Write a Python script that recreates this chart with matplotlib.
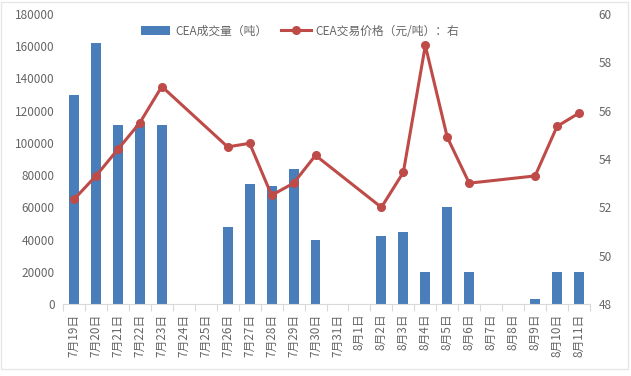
import numpy as np
import matplotlib
matplotlib.use("Agg")
import matplotlib.pyplot as plt
from matplotlib.patches import Rectangle

plt.rcParams['font.family'] = ['Noto Sans CJK SC', 'DejaVu Sans']

dates = ["7月19日", "7月20日", "7月21日", "7月22日", "7月23日", "7月24日", "7月25日",
         "7月26日", "7月27日", "7月28日", "7月29日", "7月30日", "7月31日", "8月1日",
         "8月2日", "8月3日", "8月4日", "8月5日", "8月6日", "8月7日", "8月8日",
         "8月9日", "8月10日", "8月11日"]
volume = [130000, 162000, 111000, 111000, 111000, 0, 0,
          48000, 74500, 73000, 84000, 40000, 0, 0,
          42000, 45000, 20000, 60000, 20000, 0, 0,
          3000, 20000, 20000]
price = [52.33, 53.3, 54.4, 55.5, 57.0, None, None,
         54.5, 54.65, 52.5, 53.0, 54.15, None, None,
         52.0, 53.45, 58.7, 54.9, 53.0, None, None,
         53.3, 55.35, 55.9]

bar_color = "#4A7EBB"
line_color = "#BE4B48"
text_color = "#666666"

fig = plt.figure(figsize=(6.31, 3.76), dpi=100)
ax = fig.add_axes([63/631, 1-304/376, (590-63)/631, (304-14)/376])
x = np.arange(len(dates))
bars = ax.bar(x, volume, width=0.45, color=bar_color, label="CEA成交量（吨）", zorder=2)
ax.set_xlim(-0.5, len(dates)-0.5)
ax.set_ylim(0, 180000)
ax.set_yticks(np.arange(0, 180001, 20000))
ax.set_xticks(x)
ax.set_xticklabels(dates, rotation=90, fontsize=8.5, color=text_color)
ax.set_xticks(np.arange(-0.5, len(dates), 1), minor=True)
ax.tick_params(axis='x', which='major', length=0, pad=7)
ax.tick_params(axis='x', which='minor', length=5, color="#D9D9D9", width=0.8)
ax.tick_params(axis='y', length=0, labelsize=8.5, labelcolor=text_color, pad=6)
for s in ['top', 'right', 'left']:
    ax.spines[s].set_visible(False)
ax.spines['bottom'].set_color("#D9D9D9")
ax.spines['bottom'].set_linewidth(0.8)

ax2 = ax.twinx()
px = [i for i, p in enumerate(price) if p is not None]
py = [p for p in price if p is not None]
ln, = ax2.plot(px, py, color=line_color, lw=2.2, marker='o', markersize=5.5,
               label="CEA交易价格（元/吨）：右", zorder=3)
ax2.set_ylim(48, 60)
ax2.set_yticks(np.arange(48, 61, 2))
ax2.tick_params(axis='y', length=0, labelsize=8.5, labelcolor=text_color, pad=6)
for s in ['top', 'right', 'left', 'bottom']:
    ax2.spines[s].set_visible(False)

fig.legend(handles=[bars, ln], loc='upper center', bbox_to_anchor=(300/631, 1-14/376),
           ncol=2, frameon=False, fontsize=8.5, handlelength=2.5, columnspacing=1.2,
           handletextpad=0.4, labelcolor=text_color)

fig.patches.append(Rectangle((1/631, 1-369/376), 627/631, 367/376, transform=fig.transFigure,
                             fill=False, edgecolor="#E6E6E6", lw=1))

fig.savefig("out.png", dpi=100)
